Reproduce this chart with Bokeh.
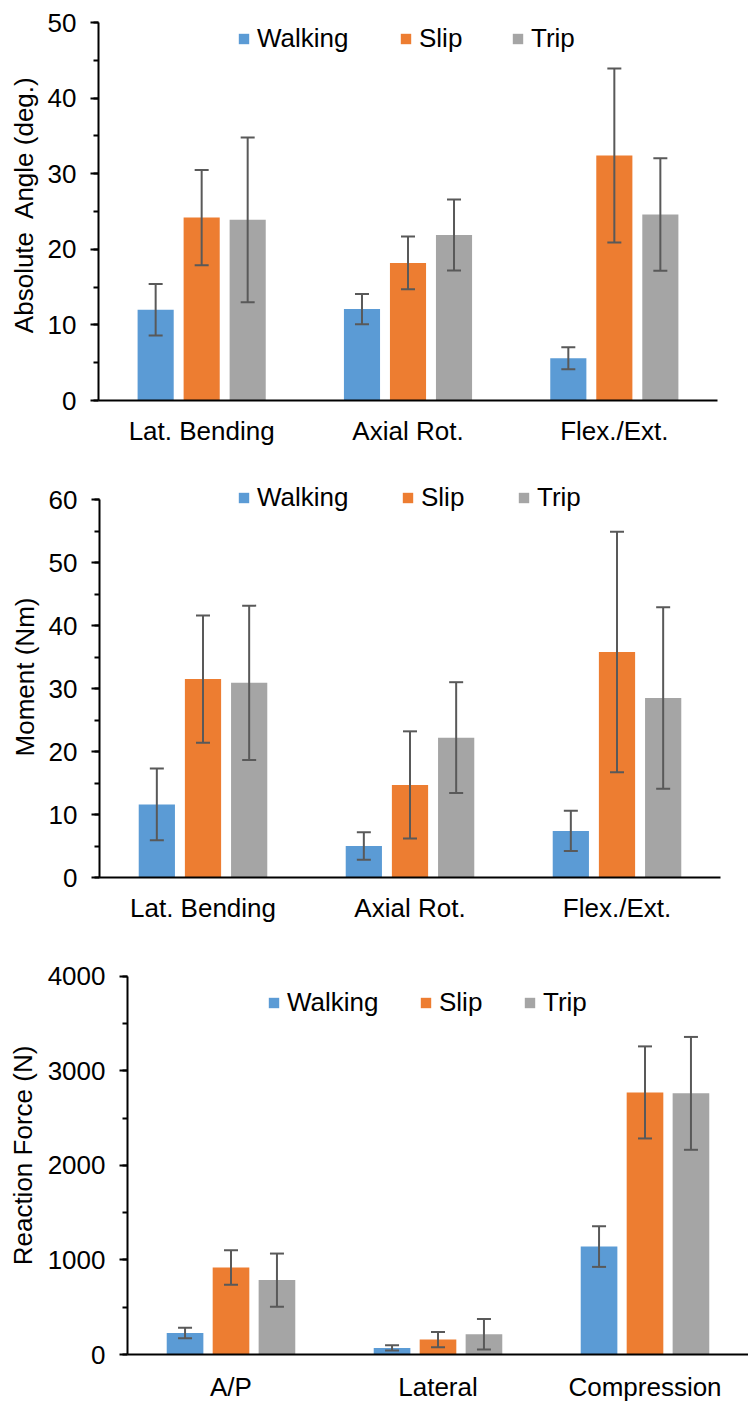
from bokeh.plotting import figure
from bokeh.layouts import column
from bokeh.models import (ColumnDataSource, Whisker, TeeHead, Legend, LegendItem,
                          FixedTicker, Range1d, SingleIntervalTicker)
from bokeh.embed import file_html
from bokeh.resources import INLINE

series = ["Walking", "Slip", "Trip"]
colors = ["#5B9BD5", "#ED7D31", "#A5A5A5"]

angle_cats = ["Lat. Bending", "Axial Rot.", "Flex./Ext."]
angle_walking = [12.0, 12.1, 5.6]
angle_walking_err = [3.4, 2.0, 1.45]
angle_slip = [24.2, 18.2, 32.4]
angle_slip_err = [6.3, 3.5, 11.5]
angle_trip = [23.9, 21.9, 24.6]
angle_trip_err = [10.9, 4.7, 7.45]

moment_cats = ["Lat. Bending", "Axial Rot.", "Flex./Ext."]
moment_walking = [11.6, 5.0, 7.4]
moment_walking_err = [5.7, 2.2, 3.2]
moment_slip = [31.5, 14.7, 35.8]
moment_slip_err = [10.1, 8.5, 19.1]
moment_trip = [30.9, 22.2, 28.5]
moment_trip_err = [12.25, 8.8, 14.4]

force_cats = ["A/P", "Lateral", "Compression"]
force_walking = [228, 70, 1142]
force_walking_err = [55, 28, 215]
force_slip = [921, 158, 2773]
force_slip_err = [183, 81, 487]
force_trip = [787, 214, 2763]
force_trip_err = [281, 162, 597]

FONT = "Liberation Sans"
FS = "26px"


def make_panel(cats, vals, errs, ymax, yend, interval, ylabel, height, borders,
               legend_xs, legend_y, label_standoff, axis_label_standoff,
               bar_w=0.175, off=0.223):
    left, right, top, bottom = borders
    p = figure(width=748, height=height, output_backend="svg", toolbar_location=None,
               x_range=Range1d(0, 3), y_range=Range1d(0, yend),
               min_border_left=left, min_border_right=right,
               min_border_top=top, min_border_bottom=bottom)
    p.outline_line_color = None
    p.xgrid.visible = False
    p.ygrid.visible = False
    p.background_fill_color = "white"
    p.border_fill_color = "white"

    offsets = [-off, 0.0, off]
    for k in range(3):
        xs = [i + 0.5 + offsets[k] for i in range(len(cats))]
        src = ColumnDataSource(dict(x=xs, top=vals[k],
                                    upper=[v + e for v, e in zip(vals[k], errs[k])],
                                    lower=[v - e for v, e in zip(vals[k], errs[k])]))
        r = p.vbar(x="x", top="top", width=bar_w, bottom=0, source=src,
                   fill_color=colors[k], line_color=None)
        w = Whisker(base="x", upper="upper", lower="lower", source=src,
                    line_color="#595959", line_width=2, level="overlay",
                    upper_head=TeeHead(size=14, line_color="#595959", line_width=2),
                    lower_head=TeeHead(size=14, line_color="#595959", line_width=2))
        p.add_layout(w)
        legend = Legend(items=[LegendItem(label=series[k], renderers=[r])],
                        location=(legend_xs[k], legend_y),
                        glyph_width=13, glyph_height=13, label_height=26,
                        label_standoff=7, padding=0, margin=0,
                        border_line_color=None, background_fill_alpha=0,
                        label_text_font=FONT, label_text_font_size=FS,
                        label_text_color="black")
        p.add_layout(legend)

    xa = p.xaxis[0]
    xa.ticker = FixedTicker(ticks=[0.5, 1.5, 2.5])
    xa.major_label_overrides = {0.5: cats[0], 1.5: cats[1], 2.5: cats[2]}
    xa.major_tick_out = 0
    xa.major_tick_in = 0
    xa.minor_tick_out = 0
    xa.minor_tick_in = 0
    xa.axis_line_color = "black"
    xa.axis_line_width = 2
    xa.major_label_text_font = FONT
    xa.major_label_text_font_size = FS
    xa.major_label_text_color = "black"
    xa.major_label_standoff = label_standoff

    ya = p.yaxis[0]
    ya.ticker = SingleIntervalTicker(interval=interval, num_minor_ticks=2)
    ya.bounds = (0, ymax)
    ya.axis_line_color = "black"
    ya.axis_line_width = 2
    ya.major_tick_line_color = "black"
    ya.major_tick_line_width = 2
    ya.minor_tick_line_color = "black"
    ya.minor_tick_line_width = 2
    ya.major_tick_out = 8
    ya.major_tick_in = 0
    ya.minor_tick_out = 5
    ya.minor_tick_in = 0
    ya.major_label_text_font = FONT
    ya.major_label_text_font_size = FS
    ya.major_label_text_color = "black"
    ya.major_label_standoff = 14
    ya.axis_label = ylabel
    ya.axis_label_text_font = FONT
    ya.axis_label_text_font_size = FS
    ya.axis_label_text_font_style = "normal"
    ya.axis_label_text_color = "black"
    ya.axis_label_standoff = axis_label_standoff
    return p


# panel 1: figure 0..468, frame top 8 (axis top 22), frame bottom 400
p1 = make_panel(angle_cats, [angle_walking, angle_slip, angle_trip],
                [angle_walking_err, angle_slip_err, angle_trip_err],
                50, 50 + 14 / 7.56, 10, "Absolute\u00a0 Angle (deg.)", 468, (98, 31, 8, 68),
                [139, 301, 413], 346, 15, 6)
# panel 2: figure 468..948, frame top 476 (axis top 499), frame bottom 877
p2 = make_panel(moment_cats, [moment_walking, moment_slip, moment_trip],
                [moment_walking_err, moment_slip_err, moment_trip_err],
                60, 60 + 23 / 6.3, 10, "Moment (Nm)", 480, (99, 28, 8, 71),
                [138, 302, 418], 364, 15, 6)
# panel 3: figure 948..1404, frame top 956 (axis top 976), frame bottom 1355
p3 = make_panel(force_cats, [force_walking, force_slip, force_trip],
                [force_walking_err, force_slip_err, force_trip_err],
                4000, 4000 + 20 / 0.09475, 1000, "Reaction Force (N)", 456, (127, 0, 8, 49),
                [140, 292, 396], 336, 17, 7, bar_w=0.177, off=0.222)

layout = column(column(p1), column(p2), column(p3), spacing=0)
open("out.html", "w").write(file_html(layout, INLINE))
